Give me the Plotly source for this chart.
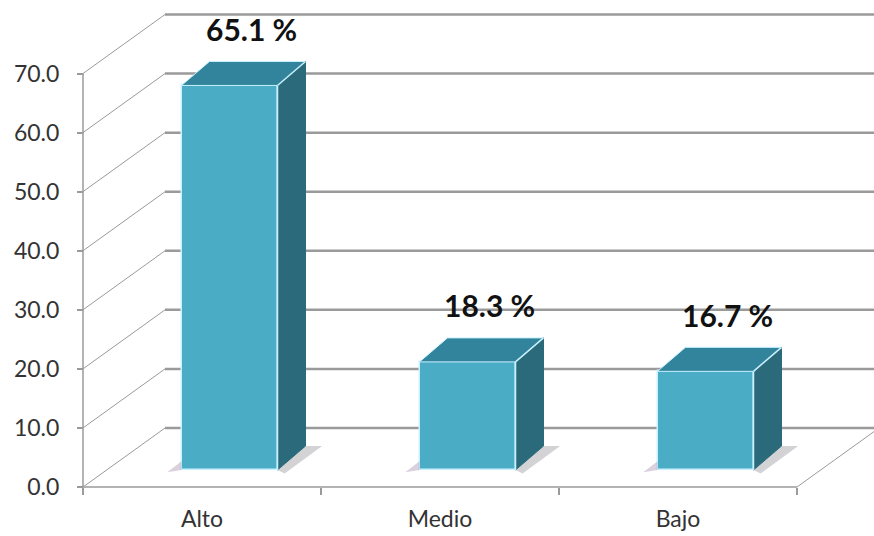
import plotly.graph_objects as go
import numpy as np

# ---------------- data ----------------
categories = ["Alto", "Medio", "Bajo"]
values = [65.1, 18.3, 16.7]
value_labels = ["65.1 %", "18.3 %", "16.7 %"]
y_tick_values = [0, 10, 20, 30, 40, 50, 60, 70]
y_tick_labels = ["0.0", "10.0", "20.0", "30.0", "40.0", "50.0", "60.0", "70.0"]

# ---------------- geometry / style ----------------
W, H = 874, 536
ML, MB = 40, 20
PX_X = 238.0          # pixels per category
PX_Y = 5.907          # pixels per value unit
X0PX, Y0PX = 83, 487  # pixel position of the front axis origin
x_range = [-0.5 - (X0PX - ML) / PX_X, -0.5 + (W - X0PX) / PX_X]
y_range = [-(H - MB - Y0PX) / PX_Y, Y0PX / PX_Y]

DEPTH_X, DEPTH_Y = 82 / PX_X, 59 / PX_Y          # wall depth
BAR_W = 96 / PX_X
BAR_OFF_X, BAR_BASE = 27.5 / PX_X, 17 / PX_Y      # bar front face offset
BAR_DX, BAR_DY = 28 / PX_X, 24 / PX_Y             # bar depth
LABEL_DX, LABEL_DY = 0.21, 12.5

GRID = "#9a9a9a"
FRONT = "#4BACC6"
TOP = "#31849B"
SIDE = "#2B6A7B"
EDGE = "#C9F1FF"
FONT = "Lato"

cx = np.arange(len(categories))
left_edge, right_edge = -0.5, len(categories) - 0.5
top_tick = max(y_tick_values)

fig = go.Figure()

# ---------------- walls / gridlines ----------------
shapes = []
for t in y_tick_values:
    shapes.append(dict(type="line", xref="x", yref="y", layer="below",
                       x0=left_edge, y0=t, x1=left_edge + DEPTH_X, y1=t + DEPTH_Y,
                       line=dict(color=GRID, width=1)))
    shapes.append(dict(type="line", xref="x", yref="y", layer="below",
                       x0=left_edge + DEPTH_X, y0=t + DEPTH_Y,
                       x1=right_edge + DEPTH_X, y1=t + DEPTH_Y,
                       line=dict(color=GRID, width=2.5)))
shapes.append(dict(type="line", xref="x", yref="y", layer="below",
                   x0=left_edge, y0=0, x1=left_edge, y1=top_tick,
                   line=dict(color=GRID, width=1.5)))
shapes.append(dict(type="line", xref="x", yref="y", layer="below",
                   x0=left_edge, y0=0, x1=right_edge, y1=0,
                   line=dict(color=GRID, width=1.5)))
shapes.append(dict(type="line", xref="x", yref="y", layer="below",
                   x0=right_edge, y0=0, x1=right_edge + DEPTH_X, y1=DEPTH_Y,
                   line=dict(color=GRID, width=1)))

# ---------------- bars ----------------
front_x = cx + BAR_OFF_X
for xc, v in zip(front_x, values):
    xl, xr_ = xc - BAR_W / 2, xc + BAR_W / 2
    yb = BAR_BASE
    # soft shadows on the floor
    fig.add_trace(go.Scatter(
        x=[xr_, xr_ + BAR_DX, xr_ + BAR_DX + 0.07, xr_ + 0.03],
        y=[yb, yb + BAR_DY, yb + BAR_DY, yb - 0.6],
        fill="toself", fillcolor="rgba(110,110,120,0.30)", mode="none",
        hoverinfo="skip", showlegend=False))
    fig.add_trace(go.Scatter(
        x=[xl, xl - 0.06, xl],
        y=[yb, yb - 0.4, yb + 1.5],
        fill="toself", fillcolor="rgba(150,120,160,0.35)", mode="none",
        hoverinfo="skip", showlegend=False))

fig.add_trace(go.Bar(
    x=front_x, y=values, base=[BAR_BASE] * len(values), width=BAR_W,
    marker=dict(color=FRONT, line=dict(color=EDGE, width=1.5)),
    hoverinfo="skip", showlegend=False))

for xc, v in zip(front_x, values):
    xl, xr_ = xc - BAR_W / 2, xc + BAR_W / 2
    yb, yt = BAR_BASE, BAR_BASE + v
    # top face
    fig.add_trace(go.Scatter(
        x=[xl, xl + BAR_DX, xr_ + BAR_DX, xr_, xl],
        y=[yt, yt + BAR_DY, yt + BAR_DY, yt, yt],
        fill="toself", fillcolor=TOP, mode="lines",
        line=dict(color=EDGE, width=1), hoverinfo="skip", showlegend=False))
    # side face
    fig.add_trace(go.Scatter(
        x=[xr_, xr_, xr_ + BAR_DX, xr_ + BAR_DX, xr_],
        y=[yb, yt, yt + BAR_DY, yb + BAR_DY, yb],
        fill="toself", fillcolor=SIDE, mode="lines",
        line=dict(color=SIDE, width=1), hoverinfo="skip", showlegend=False))
    fig.add_trace(go.Scatter(
        x=[xr_, xr_ + BAR_DX], y=[yt, yt + BAR_DY], mode="lines",
        line=dict(color=EDGE, width=1.5), hoverinfo="skip", showlegend=False))
    fig.add_trace(go.Scatter(
        x=[xr_, xr_], y=[yb, yt], mode="lines",
        line=dict(color=EDGE, width=1.5), hoverinfo="skip", showlegend=False))

# ---------------- value labels ----------------
for xc, v, lab in zip(cx, values, value_labels):
    fig.add_annotation(x=xc + LABEL_DX, y=v + LABEL_DY, text=lab, showarrow=False,
                       font=dict(family=FONT, size=30, color="#111111", weight="bold"),
                       xanchor="center", yanchor="middle")

fig.update_layout(
    width=W, height=H, margin=dict(l=ML, r=0, t=0, b=MB),
    paper_bgcolor="white", plot_bgcolor="white",
    shapes=shapes, bargap=0, showlegend=False,
    xaxis=dict(range=x_range, tickmode="array", tickvals=cx, ticktext=categories,
               ticks="", showgrid=False, zeroline=False, showline=False,
               anchor="free", position=(H - MB - Y0PX) / (H - MB),
               tickfont=dict(family=FONT, size=23, color="#333333"),
               ticklabelstandoff=16,
               minor=dict(tickmode="array", tickvals=[b - 0.5 for b in range(len(categories) + 1)],
                          ticks="outside", ticklen=7, tickcolor=GRID, tickwidth=1.5,
                          showgrid=False)),
    yaxis=dict(range=y_range, tickmode="array", tickvals=y_tick_values, ticktext=y_tick_labels,
               ticks="outside", ticklen=6, tickcolor=GRID, tickwidth=1.5,
               showgrid=False, zeroline=False, showline=False,
               anchor="free", position=(X0PX - ML) / (W - ML),
               tickfont=dict(family=FONT, size=23, color="#333333"),
               ticklabelstandoff=13),
)

fig.write_html("out.html")
